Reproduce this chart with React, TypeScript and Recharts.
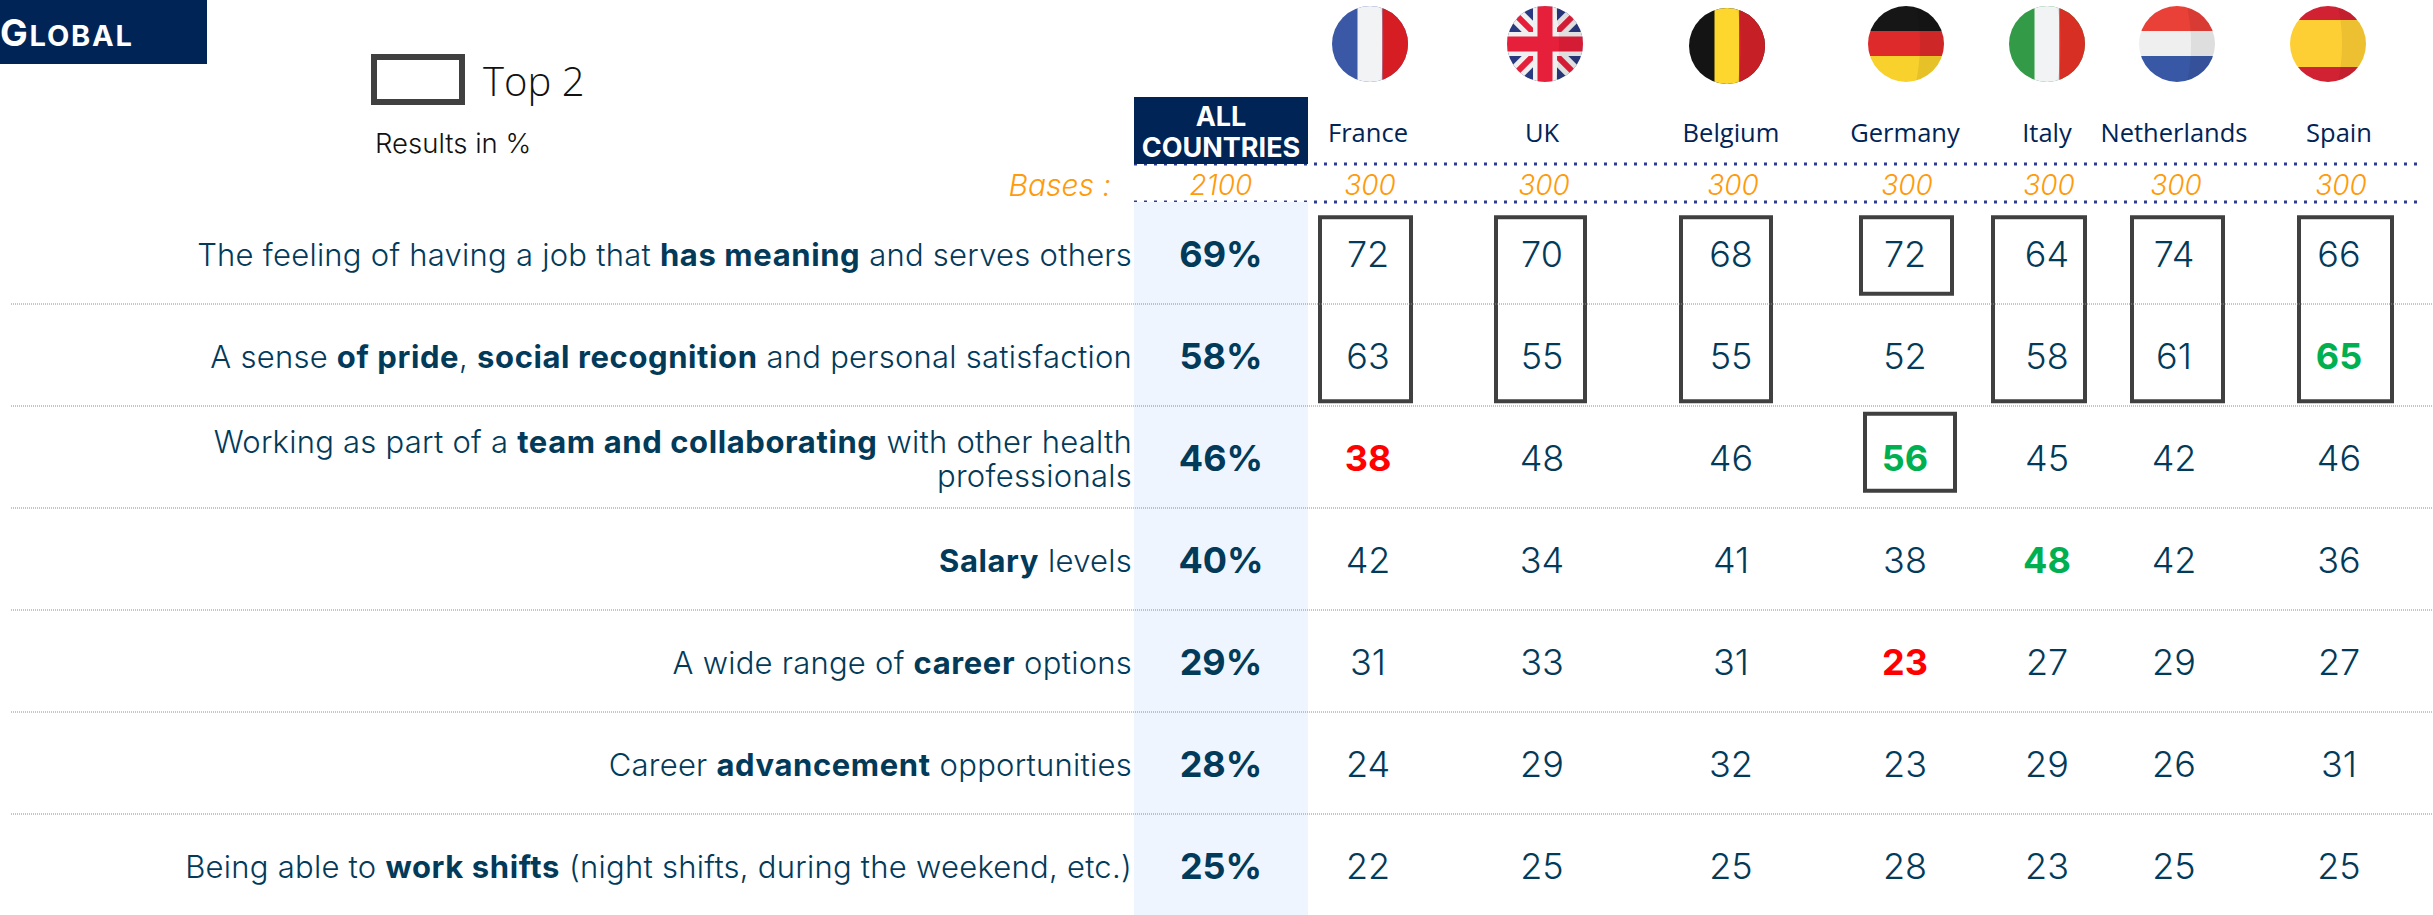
import { ScatterChart, Scatter, XAxis, YAxis, ReferenceArea, ReferenceLine } from 'recharts';

const statements = [
  'The feeling of having a job that **has meaning** and serves others',
  'A sense **of pride**, **social recognition** and personal satisfaction',
  'Working as part of a **team and collaborating** with other health\nprofessionals',
  '**Salary** levels',
  'A wide range of **career** options',
  'Career **advancement** opportunities',
  'Being able to **work shifts** (night shifts, during the weekend, etc.)',
];
const countries = ['France', 'UK', 'Belgium', 'Germany', 'Italy', 'Netherlands', 'Spain'];
const bases = [300, 300, 300, 300, 300, 300, 300];
const allBase = 2100;
const allCountries = [69, 58, 46, 40, 29, 28, 25];
const france = [72, 63, 38, 42, 31, 24, 22];
const uk = [70, 55, 48, 34, 33, 29, 25];
const belgium = [68, 55, 46, 41, 31, 32, 25];
const germany = [72, 52, 56, 38, 23, 23, 28];
const italy = [64, 58, 45, 48, 27, 29, 23];
const netherlands = [74, 61, 42, 42, 29, 26, 25];
const spain = [66, 65, 46, 36, 27, 31, 25];
const countryValues = [france, uk, belgium, germany, italy, netherlands, spain];

// [country, row] pairs
const significantlyHigh = [[6, 1], [3, 2], [4, 3]];
const significantlyLow = [[0, 2], [3, 4]];

// column centres on the x axis (columns are not evenly spaced in the original)
const columnX = [1368, 1542, 1731, 1905, 2047, 2174, 2339];
const allX = 1221;
const plotLeft = 11;
const labelRight = 1132;

// top 2 frames: x1, x2, y1, y2 in axis units
const top2Frames = [
  [1320, 1411, 0.15, 1.954],
  [1496, 1585, 0.15, 1.954],
  [1681, 1771, 0.15, 1.954],
  [1861, 1952, 0.15, 0.9],
  [1865, 1955, 2.075, 2.83],
  [1993, 2085, 0.15, 1.954],
  [2132, 2223, 0.15, 1.954],
  [2299, 2392, 0.15, 1.954],
];

const NAVY = '#002456';
const INK = '#023a5a';
const ORANGE = '#ff9a0a';
const MAIN_FONT = 'Inter, sans-serif';
const NAME_FONT = '"Open Sans", sans-serif';

const cellPoints = countryValues.flatMap((values, c) =>
  values.map((value, r) => ({
    x: columnX[c],
    y: r + 0.5,
    value,
    color: significantlyHigh.some(([a, b]) => a === c && b === r)
      ? '#00b050'
      : significantlyLow.some(([a, b]) => a === c && b === r)
        ? '#ff0000'
        : INK,
    bold: significantlyHigh.concat(significantlyLow).some(([a, b]) => a === c && b === r),
  }))
);
const totalPoints = allCountries.map((value, r) => ({ x: allX, y: r + 0.5, value }));

const flagOffset = [2, 3, -4, 1, 0, 3, -11];

function Flag({ name, cx, cy }: { name: string; cx: number; cy: number }) {
  const r = 38;
  const id = `clip-${name}`;
  const l = cx - r - 1;
  const w = 2 * r + 2;
  const t = cy - r;
  const vert = (a: string, b: string, c: string) => (
    <>
      <rect x={l} y={t} width={w} height={2 * r} fill={a} />
      <rect x={cx - 12.5} y={t} width={25} height={2 * r} fill={b} />
      <rect x={cx + 12.5} y={t} width={w} height={2 * r} fill={c} />
    </>
  );
  const horiz = (a: string, b: string, c: string, y1: number, y2: number) => (
    <>
      <rect x={l} y={t} width={w} height={y1} fill={a} />
      <rect x={l} y={t + y1} width={w} height={y2 - y1} fill={b} />
      <rect x={l} y={t + y2} width={w} height={2 * r - y2} fill={c} />
    </>
  );
  let body = null;
  if (name === 'France') body = vert('#3a58a6', '#f2f3f5', '#e72026');
  if (name === 'Belgium') body = vert('#141414', '#fdd72d', '#d62228');
  if (name === 'Italy') body = vert('#339a47', '#f2f3f5', '#e83327');
  if (name === 'Germany') body = horiz('#161616', '#de2a2a', '#f8d12c', 25, 50);
  if (name === 'Netherlands') body = horiz('#e94038', '#efefef', '#3858a6', 25, 50);
  if (name === 'Spain') body = horiz('#d12233', '#fecf34', '#d12233', 14, 61);
  if (name === 'UK')
    body = (
      <>
        <rect x={l} y={t} width={w} height={2 * r} fill="#2a3a80" />
        <path d={`M${cx - r} ${cy - r}L${cx + r} ${cy + r}M${cx + r} ${cy - r}L${cx - r} ${cy + r}`} stroke="#f0f0f0" strokeWidth={16} />
        <path d={`M${cx - r} ${cy - r}L${cx + r} ${cy + r}M${cx + r} ${cy - r}L${cx - r} ${cy + r}`} stroke="#e61f3a" strokeWidth={6} />
        <path d={`M${cx} ${cy - r}V${cy + r}M${cx - r} ${cy}H${cx + r}`} stroke="#f0f0f0" strokeWidth={24} />
        <path d={`M${cx} ${cy - r}V${cy + r}M${cx - r} ${cy}H${cx + r}`} stroke="#e61f3a" strokeWidth={15} />
      </>
    );
  return (
    <g>
      <clipPath id={id}>
        <ellipse cx={cx} cy={cy} rx={r} ry={r} />
      </clipPath>
      <g clipPath={`url(#${id})`}>
        {body}
        <path
          d={`M${cx + 10} ${t}Q${cx + 18} ${cy} ${cx + 10} ${t + 2 * r}H${cx + 40}V${t}Z`}
          fill="#000"
          opacity={0.07}
        />
      </g>
    </g>
  );
}

function HeaderTick(props: any) {
  const x = props.payload.value;
  if (x === allX) {
    return (
      <g>
        <rect x={1134} y={97} width={174} height={67} fill={NAVY} />
        <text x={allX} y={116} textAnchor="middle" dominantBaseline="central" fontFamily={MAIN_FONT} fontWeight={700} fontSize={27} fill="#fff">
          ALL
        </text>
        <text x={allX} y={147} textAnchor="middle" dominantBaseline="central" fontFamily={MAIN_FONT} fontWeight={700} fontSize={27} fill="#fff">
          COUNTRIES
        </text>
        <text x={allX} y={185} textAnchor="middle" dominantBaseline="central" fontFamily={MAIN_FONT} fontWeight={300} fontStyle="italic" fontSize={28} fill={ORANGE}>
          {allBase}
        </text>
      </g>
    );
  }
  const i = columnX.indexOf(x);
  const name = countries[i];
  return (
    <g>
      <Flag name={name} cx={x + flagOffset[i]} cy={name === 'Belgium' ? 46 : 44} />
      <text x={x} y={132} textAnchor="middle" dominantBaseline="central" fontFamily={NAME_FONT} fontSize={25.5} fill={NAVY}>
        {name}
      </text>
      <text x={x + 2} y={185} textAnchor="middle" dominantBaseline="central" fontFamily={MAIN_FONT} fontWeight={300} fontStyle="italic" fontSize={28} fill={ORANGE}>
        {bases[i]}
      </text>
    </g>
  );
}

function StatementTick(props: any) {
  const row = Math.floor(props.payload.value);
  const lines = statements[row].split('\n');
  return (
    <g>
      {lines.map((line, k) => (
        <text
          key={k}
          x={labelRight}
          y={props.y + 1 + (k - (lines.length - 1) / 2) * 34}
          textAnchor="end"
          dominantBaseline="central"
          fontFamily={MAIN_FONT}
          fontWeight={300}
          fontSize={31}
          letterSpacing={0.25}
          fill={INK}
        >
          {line.split('**').map((part, j) => (
            <tspan key={j} fontWeight={j % 2 ? 700 : 300} letterSpacing={j % 2 ? 0.6 : 0.25}>
              {part}
            </tspan>
          ))}
        </text>
      ))}
    </g>
  );
}

function CellMark(props: any) {
  return (
    <text
      x={props.cx}
      y={props.cy + 1}
      textAnchor="middle"
      dominantBaseline="central"
      fontFamily={MAIN_FONT}
      fontWeight={props.bold ? 700 : 300}
      fontSize={36}
      fill={props.color}
    >
      {props.value}
    </text>
  );
}

function TotalMark(props: any) {
  return (
    <text x={props.cx} y={props.cy + 1} textAnchor="middle" dominantBaseline="central" fontFamily={MAIN_FONT} fontWeight={700} fontSize={36} fill={INK}>
      {props.value}%
    </text>
  );
}

export default function App() {
  return (
    <div style={{ position: 'absolute', left: 0, top: 0, width: 2433, height: 915, overflow: 'hidden', background: '#fff' }}>
      <ScatterChart width={2433} height={916} margin={{ top: 201, right: 0, bottom: 0, left: plotLeft - 1 }}>
        <XAxis
          type="number"
          dataKey="x"
          orientation="top"
          domain={[plotLeft, 2433]}
          ticks={[allX, ...columnX]}
          interval={0}
          height={1}
          axisLine={false}
          tickLine={false}
          tick={HeaderTick}
        />
        <YAxis
          type="number"
          dataKey="y"
          reversed
          domain={[0, 7]}
          ticks={statements.map((_, r) => r + 0.5)}
          interval={0}
          width={1}
          axisLine={false}
          tickLine={false}
          tick={StatementTick}
        />
        <ReferenceArea x1={1134} x2={1308} y1={0} y2={7} fill="#eef5fe" fillOpacity={1} stroke="none" />
        {[1, 2, 3, 4, 5, 6].map((y) => (
          <ReferenceLine key={y} y={y} stroke="#8c8c8c" strokeWidth={1} strokeDasharray="1 1" />
        ))}
        {top2Frames.map(([x1, x2, y1, y2], i) => (
          <ReferenceArea key={i} x1={x1} x2={x2} y1={y1} y2={y2} fill="none" stroke="#404040" strokeWidth={4} />
        ))}
        <Scatter data={totalPoints} isAnimationActive={false} shape={TotalMark} />
        <Scatter data={cellPoints} isAnimationActive={false} shape={CellMark} />

        <rect x={0} y={0} width={207} height={64} fill={NAVY} />
        <text x={0} y={46} fontFamily={MAIN_FONT} fontWeight={700} fontSize={29} letterSpacing={1.8} fill="#fff">
          <tspan fontSize={37}>G</tspan>LOBAL
        </text>
        <rect x={374} y={57} width={88} height={45} fill="none" stroke="#404040" strokeWidth={6} />
        <text x={483} y={80} dominantBaseline="central" fontFamily={NAME_FONT} fontSize={40} fontWeight={300} fill="#111">
          Top 2
        </text>
        <text x={375} y={143} dominantBaseline="central" fontFamily={MAIN_FONT} fontSize={27.5} fontWeight={300} fill="#111">
          Results in %
        </text>
        <text x={1111} y={185} textAnchor="end" dominantBaseline="central" fontFamily={MAIN_FONT} fontWeight={300} fontStyle="italic" fontSize={30} fill={ORANGE}>
          Bases :
        </text>
        <line x1={1134} x2={2420} y1={164} y2={164} stroke="#2e3d93" strokeWidth={3} strokeDasharray="3 7" />
        <line x1={1134} x2={2420} y1={202} y2={202} stroke="#2e3d93" strokeWidth={3} strokeDasharray="3 7" />
      </ScatterChart>
    </div>
  );
}
